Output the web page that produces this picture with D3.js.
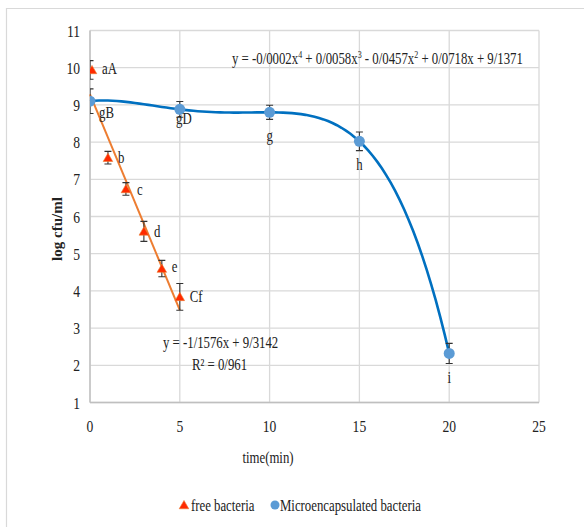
<!DOCTYPE html>
<html>
<head>
<meta charset="utf-8">
<script src="https://cdn.jsdelivr.net/npm/d3@7"></script>
<style>
  body { margin: 0; background: #fff; }
  text { font-family: "Liberation Serif", "DejaVu Serif", serif; fill: #222; }
</style>
</head>
<body>
<script>
// data
var freeTime = [0, 1, 2, 3, 4, 5];
var freeLog = [9.94, 7.58, 6.74, 5.6, 4.6, 3.84];
var freeErr = [0.25, 0.17, 0.17, 0.27, 0.22, 0.36];
var freeLabels = ["aA", "b", "c", "d", "e", "Cf"];

var encTime = [0, 5, 10, 15, 20];
var encLog = [9.1, 8.88, 8.8, 8.02, 2.32];
var encErr = [0.33, 0.21, 0.19, 0.25, 0.27];
var encLabels = ["gB", "gD", "g", "h", "i"];

var xTicks = [0, 5, 10, 15, 20, 25];
var yTicks = [1, 2, 3, 4, 5, 6, 7, 8, 9, 10, 11];

var width = 584, height = 527;
var sx = 0.8; // the text in the picture is squeezed sideways

var svg = d3.select("body").append("svg")
    .attr("width", width).attr("height", height)
    .attr("font-family", "Liberation Serif, serif");

// narrow text helper
function txt(parent, px, py, str, size, anchor) {
  return parent.append("text")
      .attr("transform", "translate(" + px + "," + py + ") scale(" + sx + ",1)")
      .attr("text-anchor", anchor || "start")
      .attr("font-size", size).text(str);
}

// outer chart border (only top and left visible)
svg.append("path")
    .attr("d", "M6.5 " + (height + 2) + " L6.5 8.5 L" + (width + 2) + " 8.5")
    .attr("fill", "none").attr("stroke", "#d9d9d9").attr("stroke-width", 1.2);

var x = d3.scaleLinear().domain([0, 25]).range([90, 539]);
var y = d3.scaleLinear().domain([1, 11]).range([402.5, 30.5]);

svg.append("defs").append("clipPath").attr("id", "plot")
  .append("rect").attr("x", 90).attr("y", 0).attr("width", 460).attr("height", 420);

// gridlines
svg.append("g").selectAll("line").data(yTicks).enter().append("line")
    .attr("x1", x(0)).attr("x2", x(25))
    .attr("y1", function(d){ return y(d); }).attr("y2", function(d){ return y(d); })
    .attr("stroke", "#d9d9d9").attr("stroke-width", 1.3);
svg.append("g").selectAll("line").data(xTicks).enter().append("line")
    .attr("y1", y(1)).attr("y2", y(11))
    .attr("x1", function(d){ return x(d); }).attr("x2", function(d){ return x(d); })
    .attr("stroke", "#d9d9d9").attr("stroke-width", 1.3);
// axis lines
svg.append("line").attr("x1", x(0)).attr("x2", x(25)).attr("y1", y(1)).attr("y2", y(1))
    .attr("stroke", "#bfbfbf").attr("stroke-width", 1.4);
svg.append("line").attr("x1", x(0)).attr("x2", x(0)).attr("y1", y(1)).attr("y2", y(11))
    .attr("stroke", "#bfbfbf").attr("stroke-width", 1.4);

// tick labels
yTicks.forEach(function(d){ txt(svg, 80, y(d) + 6, d, 17, "end"); });
xTicks.forEach(function(d){ txt(svg, x(d), 432, d, 17, "middle"); });

// axis titles
svg.append("text").attr("transform", "translate(62,229) rotate(-90)")
    .attr("text-anchor", "middle").attr("font-size", 15).attr("font-weight", "bold")
    .text("log cfu/ml");
txt(svg, 268, 463, "time(min)", 16, "middle");

// linear trendline for free bacteria (least squares)
var mx = d3.mean(freeTime), my = d3.mean(freeLog);
var sxy = d3.sum(freeTime, function(t, i){ return (t - mx) * (freeLog[i] - my); });
var sxx = d3.sum(freeTime, function(t){ return (t - mx) * (t - mx); });
var slope = sxy / sxx, icpt = my - slope * mx;
svg.append("line")
    .attr("x1", x(0)).attr("y1", y(icpt))
    .attr("x2", x(5)).attr("y2", y(icpt + slope * 5))
    .attr("stroke", "#ED7D31").attr("stroke-width", 2);

// order-4 polynomial trendline for microencapsulated (through the 5 points)
function poly(t) {
  var s = 0;
  for (var i = 0; i < encTime.length; i++) {
    var p = encLog[i];
    for (var j = 0; j < encTime.length; j++) {
      if (j != i) p *= (t - encTime[j]) / (encTime[i] - encTime[j]);
    }
    s += p;
  }
  return s;
}
var curvePts = d3.range(0, 20.01, 0.25);
svg.append("path")
    .datum(curvePts)
    .attr("d", d3.line().x(function(t){ return x(t); }).y(function(t){ return y(poly(t)); }))
    .attr("fill", "none").attr("stroke", "#0070C0").attr("stroke-width", 2.6);

var marks = svg.append("g").attr("clip-path", "url(#plot)");

function errBars(ts, vs, es) {
  ts.forEach(function(t, i) {
    var cx = x(t), top = y(vs[i] + es[i]), bot = y(vs[i] - es[i]);
    marks.append("path")
        .attr("d", "M" + cx + " " + top + " L" + cx + " " + bot +
                   " M" + (cx - 3.5) + " " + top + " L" + (cx + 3.5) + " " + top +
                   " M" + (cx - 3.5) + " " + bot + " L" + (cx + 3.5) + " " + bot)
        .attr("stroke", "#333").attr("stroke-width", 1.1).attr("fill", "none");
  });
}

// microencapsulated markers
errBars(encTime, encLog, encErr);
marks.selectAll("circle.enc").data(encTime).enter().append("circle")
    .attr("class", "enc")
    .attr("cx", function(t){ return x(t); })
    .attr("cy", function(t, i){ return y(encLog[i]); })
    .attr("r", 5.5).attr("fill", "#5B9BD5");

// free bacteria markers
errBars(freeTime, freeLog, freeErr);
var tri = d3.symbol().type(d3.symbolTriangle).size(40);
marks.selectAll("path.free").data(freeTime).enter().append("path")
    .attr("class", "free")
    .attr("d", tri)
    .attr("transform", function(t, i){ return "translate(" + (x(t) + (t == 0 ? 2 : 0)) + "," + (y(freeLog[i]) + 1) + ")"; })
    .attr("fill", "#FF2A00").attr("stroke", "#ED7D31").attr("stroke-width", 0.6);

// point labels
var freeOff = [[12, 4], [10, 5], [11, 6], [10, 6], [10, 3], [10, 5]];
freeLabels.forEach(function(d, i) {
  txt(svg, x(freeTime[i]) + freeOff[i][0], y(freeLog[i]) + freeOff[i][1], d, 16, "start");
});
var encOff = [[9, 17, "start"], [4, 15, "middle"], [0, 29, "middle"], [0, 29, "middle"], [0, 30, "middle"]];
encLabels.forEach(function(d, i) {
  txt(svg, x(encTime[i]) + encOff[i][0], y(encLog[i]) + encOff[i][1], d, 16, encOff[i][2]);
});

// trendline equations
var eq = txt(svg, 232, 64, "", 16, "start");
var parts = [["y = -0/0002x", ""], ["4", "sup"], [" + 0/0058x", ""], ["3", "sup"],
             [" - 0/0457x", ""], ["2", "sup"], [" + 0/0718x + 9/1371", ""]];
parts.forEach(function(p, k) {
  var ts = eq.append("tspan").text(p[0]);
  if (p[1] == "sup") ts.attr("font-size", 10).attr("dy", -6);
  else ts.attr("dy", k == 0 ? 0 : 6);
});

txt(svg, 163, 348, "y = -1/1576x + 9/3142", 16, "start");
txt(svg, 192, 370, "R² = 0/961", 16, "start");

// legend
var lg = svg.append("g");
lg.append("path").attr("d", d3.symbol().type(d3.symbolTriangle).size(40))
    .attr("transform", "translate(184,506)").attr("fill", "#FF2A00").attr("stroke", "#ED7D31").attr("stroke-width", 0.6);
txt(lg, 191, 511, "free bacteria", 16, "start");
lg.append("circle").attr("cx", 275).attr("cy", 505).attr("r", 4.5).attr("fill", "#5B9BD5");
txt(lg, 280, 511, "Microencapsulated bacteria", 16, "start");
</script>
</body>
</html>
